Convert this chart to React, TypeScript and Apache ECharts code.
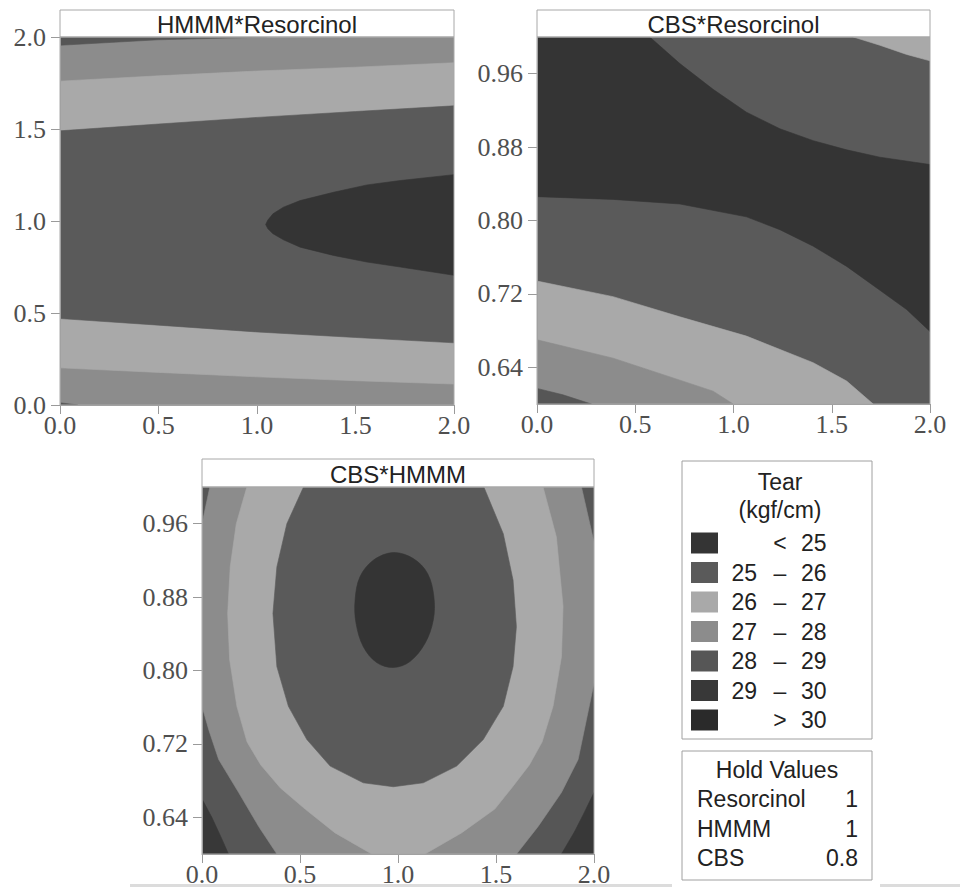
import React, { useEffect, useRef } from 'react';
import * as echarts from 'echarts';

// ---------- legend / bands ----------
const bandColors = ['#343434', '#5a5a5a', '#a9a9a9', '#8c8c8c', '#565656', '#383838', '#2a2a2a'];
const legendLo = ['', '25', '26', '27', '28', '29', ''];
const legendSep = ['<', '–', '–', '–', '–', '–', '>'];
const legendHi = ['25', '26', '27', '28', '29', '30', '30'];
const legendTitle = ['Tear', '(kgf/cm)'];

const holdNames = ['Resorcinol', 'HMMM', 'CBS'];
const holdValues = ['1', '1', '0.8'];

const panelTitles = ['HMMM*Resorcinol', 'CBS*Resorcinol', 'CBS*HMMM'];

const xTicks = [0, 0.5, 1.0, 1.5, 2.0];
const yTicksHR = [0, 0.5, 1.0, 1.5, 2.0];
const yTicksCBS = [0.64, 0.72, 0.8, 0.88, 0.96];

// ---------- panel 1: HMMM*Resorcinol (contour boundaries, data coords) ----------
const hrTop28 = [[0, 1.955], [0.5, 1.985], [1.05, 2.0]];
const hrUpper26 = [[0, 1.76], [0.5, 1.789], [1, 1.815], [1.5, 1.836], [2, 1.86]];
const hrUpper25 = [[0, 1.49], [0.5, 1.527], [1, 1.563], [1.5, 1.595], [2, 1.626]];
const hrCore = [
  [2, 0.705], [1.727, 0.75], [1.558, 0.777], [1.388, 0.813], [1.219, 0.858], [1.134, 0.898],
  [1.081, 0.931], [1.055, 0.958], [1.044, 0.981], [1.055, 1.005], [1.081, 1.039], [1.134, 1.075], [1.219, 1.111],
  [1.388, 1.156], [1.558, 1.196], [1.727, 1.22], [2, 1.252],
];
const hrLower25 = [[0, 0.47], [0.5, 0.434], [1, 0.397], [1.5, 0.367], [2, 0.338]];
const hrLower26 = [[0, 0.202], [0.5, 0.177], [1, 0.153], [1.5, 0.132], [2, 0.114]];
const hrBottom28 = [[0, 0], [0, 0.012], [0.09, 0]];

// ---------- panel 2: CBS*Resorcinol ----------
const crCoreTop = [
  [0.574, 1.0], [0.727, 0.971], [0.896, 0.943], [1.066, 0.918], [1.236, 0.9], [1.406, 0.887],
  [1.576, 0.877], [1.745, 0.869], [2, 0.861],
];
const crCorner26 = [[1.61, 1.0], [1.745, 0.991], [1.881, 0.981], [2, 0.974]];
const crCoreBottom = [
  [0, 0.826], [0.387, 0.823], [0.727, 0.818], [1.066, 0.804], [1.236, 0.79], [1.406, 0.772],
  [1.576, 0.75], [1.745, 0.724], [1.881, 0.703], [2, 0.679],
];
const crLower26 = [[0, 0.734], [0.387, 0.717], [0.727, 0.695], [1.066, 0.674], [1.406, 0.645], [1.576, 0.625], [1.711, 0.6]];
const crLower27 = [[0, 0.67], [0.387, 0.65], [0.727, 0.626], [0.896, 0.614], [0.998, 0.6]];
const crLower28 = [[0, 0.617], [0.132, 0.61], [0.277, 0.6]];

// ---------- panel 3: CBS*HMMM ----------
const chRing27Right = [[2, 0.786], [1.96, 0.745], [1.919, 0.703], [1.834, 0.667], [1.715, 0.63], [1.605, 0.6]];
const chRing27Left = [[0.382, 0.6], [0.289, 0.63], [0.187, 0.667], [0.085, 0.703], [0.035, 0.735], [0, 0.761]];
const chRing26 = [
  [0.229, 1.0], [1.74, 1.0], [1.808, 0.9455], [1.842, 0.87], [1.834, 0.815], [1.791, 0.761],
  [1.735, 0.722], [1.67, 0.697], [1.58, 0.672], [1.494, 0.649], [1.324, 0.623], [1.138, 0.6],
  [0.866, 0.6], [0.679, 0.623], [0.526, 0.649], [0.4, 0.672], [0.3, 0.697], [0.23, 0.722],
  [0.178, 0.761], [0.141, 0.812], [0.131, 0.862], [0.144, 0.913], [0.175, 0.96],
];
const chRing25 = [
  [0.518, 1.0], [1.438, 1.0], [1.537, 0.9491], [1.587, 0.8985], [1.604, 0.8478], [1.587, 0.8043],
  [1.537, 0.7609], [1.435, 0.7247], [1.299, 0.6958], [1.129, 0.6776], [0.976, 0.6733],
  [0.823, 0.6776], [0.654, 0.6958], [0.535, 0.7247], [0.441, 0.7609], [0.382, 0.8043],
  [0.362, 0.8623], [0.382, 0.9129], [0.433, 0.96],
];
const chCore = [
  [0.976, 0.9285], [1.078, 0.922], [1.151, 0.9057], [1.183, 0.8804], [1.18, 0.855], [1.138, 0.8297],
  [1.061, 0.8098], [0.976, 0.8033], [0.891, 0.8087], [0.823, 0.826], [0.786, 0.8514],
  [0.781, 0.8767], [0.806, 0.9021], [0.874, 0.9202],
];
const chCornerLeft = [[0, 0.6], [0, 0.66], [0.05, 0.64], [0.1, 0.617], [0.135, 0.6]];
const chCornerRight = [[2, 0.6], [2, 0.667], [1.95, 0.645], [1.9, 0.624], [1.834, 0.6]];

const rev = (a: number[][]) => a.slice().reverse();

type Region = { band: number; pts: number[][]; smooth?: number };

const regionsHR: Region[] = [
  { band: 3, pts: [[0, 0], [2, 0], [2, 2], [0, 2]] },
  { band: 2, pts: [...hrLower26, ...rev(hrUpper26)] },
  { band: 1, pts: [...hrLower25, ...rev(hrUpper25)] },
  { band: 0, pts: hrCore },
  { band: 4, pts: [[0, 2], ...hrTop28] },
  { band: 4, pts: hrBottom28 },
];
const regionsCR: Region[] = [
  { band: 1, pts: [[0, 0.6], [2, 0.6], [2, 1], [0, 1]] },
  { band: 0, pts: [[0, 1], ...crCoreTop, ...rev(crCoreBottom)] },
  { band: 2, pts: [...crCorner26, [2, 1]] },
  { band: 2, pts: [...crLower26, [0, 0.6]] },
  { band: 3, pts: [...crLower27, [0, 0.6]] },
  { band: 4, pts: [...crLower28, [0, 0.6]] },
];
const regionsCH: Region[] = [
  { band: 4, pts: [[0, 0.6], [2, 0.6], [2, 1], [0, 1]] },
  { band: 3, pts: [[0.04, 1.0], [1.936, 1.0], [2, 0.94], ...chRing27Right, ...chRing27Left, [0, 0.96]] },
  { band: 2, pts: chRing26 },
  { band: 1, pts: chRing25 },
  { band: 0, pts: chCore, smooth: 0.35 },
  { band: 5, pts: chCornerLeft },
  { band: 5, pts: chCornerRight },
];

const GRIDS = [
  { left: 60, top: 37, width: 394, height: 368, titleTop: 10 },
  { left: 537, top: 37, width: 393, height: 367, titleTop: 10 },
  { left: 202, top: 487, width: 392, height: 367, titleTop: 459 },
];

const AXIS_COLOR = '#9a9a9a';
const LABEL_FONT = { fontFamily: 'Liberation Serif', fontSize: 26, color: '#4f4f4f', lineHeight: 20 };
const SANS = 'Liberation Sans';

function makeSeries(regions: Region[], idx: number) {
  return {
    type: 'custom',
    xAxisIndex: idx,
    yAxisIndex: idx,
    coordinateSystem: 'cartesian2d',
    silent: true,
    clip: true,
    data: regions.map((r) => [r.pts[0][0], r.pts[0][1]]),
    renderItem: (params: any, api: any) => {
      const r = regions[params.dataIndex];
      const pts = r.pts.map((p) => api.coord(p));
      const c = bandColors[r.band];
      const shape: any = { points: pts };
      if (r.smooth) shape.smooth = r.smooth;
      return {
        type: 'polygon',
        shape,
        style: { fill: c, stroke: c, lineWidth: 0.6 },
      };
    },
  };
}

function buildOption() {
  const xAxes = GRIDS.map((_, i) => ({
    type: 'value',
    gridIndex: i,
    min: 0,
    max: 2,
    interval: 0.5,
    z: 10,
    axisLine: { show: true, lineStyle: { color: AXIS_COLOR } },
    axisTick: { show: true, length: 9, lineStyle: { color: AXIS_COLOR } },
    axisLabel: {
      ...LABEL_FONT,
      margin: 10,
      customValues: xTicks,
      formatter: (v: number) => v.toFixed(1),
    },
    splitLine: { show: false },
  }));
  const yAxes = GRIDS.map((_, i) => {
    const isHR = i === 0;
    const ticks = isHR ? yTicksHR : yTicksCBS;
    return {
      type: 'value',
      gridIndex: i,
      min: isHR ? 0 : 0.6,
      max: isHR ? 2 : 1.0,
      z: 10,
      axisLine: { show: true, lineStyle: { color: AXIS_COLOR } },
      axisTick: { show: true, length: 9, customValues: ticks, lineStyle: { color: AXIS_COLOR } },
      axisLabel: {
        ...LABEL_FONT,
        margin: 14,
        customValues: ticks,
        formatter: (v: number) => (isHR ? v.toFixed(1) : v.toFixed(2)),
      },
      splitLine: { show: false },
    };
  });

  const graphics: any[] = [];
  GRIDS.forEach((g, i) => {
    graphics.push({
      type: 'rect',
      shape: { x: g.left, y: g.titleTop, width: g.width, height: g.top - g.titleTop },
      style: { fill: '#fff', stroke: '#a8a8a8', lineWidth: 1 },
      z: 20,
    });
    graphics.push({
      type: 'text',
      x: g.left + g.width / 2,
      y: (g.titleTop + g.top) / 2 + 1,
      style: { text: panelTitles[i], font: `24px "${SANS}"`, fill: '#222', align: 'center', verticalAlign: 'middle' },
      z: 21,
    });
    graphics.push({
      type: 'rect',
      shape: { x: g.left, y: g.top, width: g.width, height: g.height },
      style: { fill: 'none', stroke: '#a8a8a8', lineWidth: 1 },
      z: 20,
    });
  });

  // legend box
  const LX = 682, LW = 190;
  graphics.push({ type: 'rect', shape: { x: LX, y: 461, width: LW, height: 278 }, style: { fill: '#fff', stroke: '#a0a0a0', lineWidth: 1 }, z: 5 });
  legendTitle.forEach((t, i) => {
    graphics.push({ type: 'text', x: 780, y: 482 + i * 28, style: { text: t, font: `23px "${SANS}"`, fill: '#222', align: 'center', verticalAlign: 'middle' }, z: 6 });
  });
  bandColors.forEach((c, i) => {
    const cy = 543 + i * 29.5;
    graphics.push({ type: 'rect', shape: { x: 691, y: cy - 10.5, width: 27, height: 21 }, style: { fill: c }, z: 6 });
    if (legendLo[i]) graphics.push({ type: 'text', x: 757, y: cy, style: { text: legendLo[i], font: `23px "${SANS}"`, fill: '#222', align: 'right', verticalAlign: 'middle' }, z: 6 });
    graphics.push({ type: 'text', x: 780, y: cy, style: { text: legendSep[i], font: `23px "${SANS}"`, fill: '#222', align: 'center', verticalAlign: 'middle' }, z: 6 });
    graphics.push({ type: 'text', x: 801, y: cy, style: { text: legendHi[i], font: `23px "${SANS}"`, fill: '#222', align: 'left', verticalAlign: 'middle' }, z: 6 });
  });

  // hold values box
  graphics.push({ type: 'rect', shape: { x: LX, y: 751, width: LW, height: 129 }, style: { fill: '#fff', stroke: '#a0a0a0', lineWidth: 1 }, z: 5 });
  graphics.push({ type: 'text', x: 777, y: 770, style: { text: 'Hold Values', font: `23px "${SANS}"`, fill: '#222', align: 'center', verticalAlign: 'middle' }, z: 6 });
  holdNames.forEach((n, i) => {
    const cy = 799 + i * 29.5;
    graphics.push({ type: 'text', x: 697, y: cy, style: { text: n, font: `23px "${SANS}"`, fill: '#222', align: 'left', verticalAlign: 'middle' }, z: 6 });
    graphics.push({ type: 'text', x: 858, y: cy, style: { text: holdValues[i], font: `23px "${SANS}"`, fill: '#222', align: 'right', verticalAlign: 'middle' }, z: 6 });
  });

  // faint page edge at bottom
  graphics.push({ type: 'rect', shape: { x: 130, y: 884, width: 542, height: 3 }, style: { fill: '#dcdcdc' }, z: 1 });
  graphics.push({ type: 'rect', shape: { x: 880, y: 884, width: 80, height: 3 }, style: { fill: '#dcdcdc' }, z: 1 });

  return {
    animation: false,
    backgroundColor: '#fff',
    grid: GRIDS.map((g) => ({ left: g.left, top: g.top, width: g.width, height: g.height, containLabel: false })),
    xAxis: xAxes,
    yAxis: yAxes,
    series: [makeSeries(regionsHR, 0), makeSeries(regionsCR, 1), makeSeries(regionsCH, 2)],
    graphic: graphics,
  };
}

export default function App() {
  const ref = useRef<HTMLDivElement>(null);
  useEffect(() => {
    document.body.style.margin = '0';
    const chart = echarts.init(ref.current as HTMLDivElement, null, { renderer: 'svg' });
    chart.setOption(buildOption() as any);
    return () => chart.dispose();
  }, []);
  return <div ref={ref} style={{ width: 960, height: 887 }} />;
}
